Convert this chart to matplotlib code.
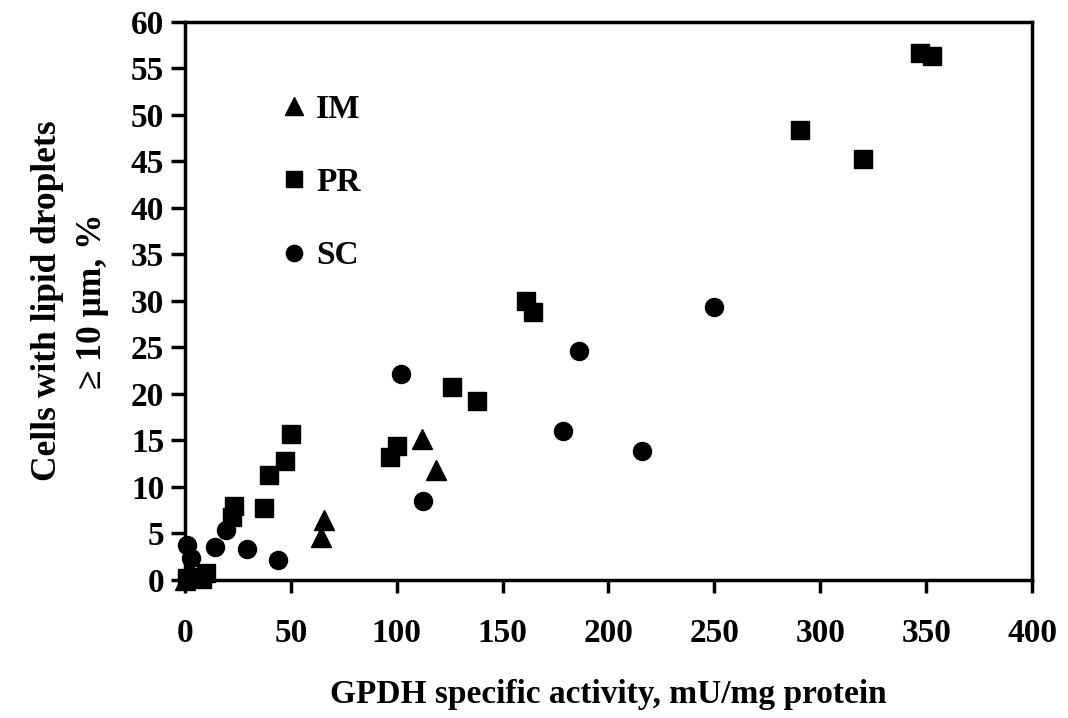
import matplotlib.pyplot as plt

# IM (triangles)
im_x = [0, 2, 64, 65.5, 112, 118.5]
im_y = [0, 1.0, 4.6, 6.4, 15.2, 11.8]

# PR (squares)
pr_x = [1, 5, 10, 8, 22.3, 23.2, 37.4, 39.8, 47.4, 50, 96.8, 100, 126, 138,
        161, 164.3, 290.4, 320, 347, 353]
pr_y = [0.2, 0.3, 0.7, 0.1, 6.8, 8.0, 7.7, 11.3, 12.8, 15.7, 13.2, 14.4, 20.7, 19.2,
        30.0, 28.8, 48.4, 45.3, 56.7, 56.3]

# SC (circles)
sc_x = [1, 3, 14, 19.3, 29.5, 43.7, 102, 112.4, 178.5, 186, 216, 250]
sc_y = [3.8, 2.4, 3.6, 5.4, 3.3, 2.2, 22.2, 8.5, 16.0, 24.6, 13.9, 29.4]

plt.rcParams['font.family'] = 'Liberation Serif'
plt.rcParams['font.weight'] = 'bold'

fig = plt.figure(figsize=(10.68, 7.18), dpi=100)
ax = fig.add_axes([0.1732, 0.1922, 0.7931, 0.7772])

ax.plot(im_x, im_y, '^', color='black', ms=14, clip_on=False, label='IM')
ax.plot(pr_x, pr_y, 's', color='black', ms=13, clip_on=False, label='PR')
ax.plot(sc_x, sc_y, 'o', color='black', ms=13, clip_on=False, label='SC')

ax.set_xlim(0, 400)
ax.set_ylim(0, 60)
ax.set_xticks(range(0, 401, 50))
ax.set_yticks(range(0, 61, 5))

for s in ax.spines.values():
    s.set_linewidth(2.5)
ax.tick_params(axis='x', direction='out', length=9, width=2.5, labelsize=24, pad=18)
ax.tick_params(axis='y', direction='out', length=10, width=2.5, labelsize=24, pad=5)

ax.set_xlabel('GPDH specific activity, mU/mg protein', fontsize=24, fontweight='bold', labelpad=22)
ax.set_ylabel('Cells with lipid droplets\n≥ 10 μm, %', fontsize=25.5, fontweight='bold',
              labelpad=16, linespacing=1.45)

leg = ax.legend(loc='upper left', bbox_to_anchor=(0.074, 0.925), frameon=False,
                fontsize=24, markerscale=0.9, labelspacing=1.27, handletextpad=0.15,
                handlelength=1.0)

fig.savefig('out.png', dpi=100)
